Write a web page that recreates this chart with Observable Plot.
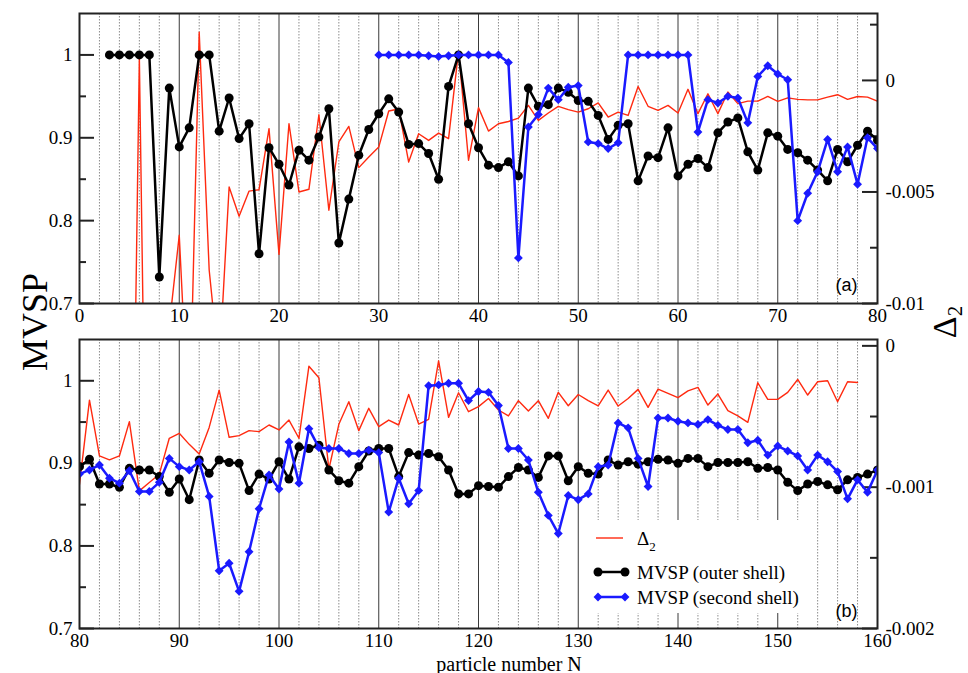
<!DOCTYPE html>
<html>
<head>
<meta charset="utf-8">
<script src="https://cdn.jsdelivr.net/npm/d3@7"></script>
<script src="https://cdn.jsdelivr.net/npm/@observablehq/plot@0.6"></script>
<style>
  body { margin: 0; background: #fff; }
  #wrap { position: relative; width: 968px; height: 673px; background: #fff; overflow: hidden;
          font-family: "Liberation Serif", serif; }
  #wrap .panel { position: absolute; left: 0; }
  #wrap svg text { font-family: "Liberation Serif", serif; }
  #wrap svg text.sans, #wrap svg .sans text { font-family: "Liberation Sans", sans-serif; }
  .lab { position: absolute; color: #000; white-space: nowrap; line-height: 1; }
  #legend { position: absolute; left: 585px; top: 520px; width: 232px; height: 93px; background: #fff; }
</style>
</head>
<body>
<div id="wrap">
  <div id="pa" class="panel" style="top:0px"></div>
  <div id="pb" class="panel" style="top:326px"></div>
  <div id="legend"></div>
  <div class="lab" style="left:35px; top:322px; font-size:36px; transform: translate(-50%,-50%) rotate(-90deg);">MVSP</div>
  <div class="lab" style="left:947px; top:322px; font-size:34px; transform: translate(-50%,-50%) rotate(-90deg);">&Delta;<sub style="font-size:21px; vertical-align:-6px;">2</sub></div>
  <div class="lab" style="left:509px; top:664px; font-size:20px; line-height:17px; transform: translate(-50%,-50%);">particle number N</div>
</div>
<script>
// ---------------- data ----------------
// Panel (a): N = 3..80 outer shell, N = 30..80 second shell, Delta_2 N = 3..80
const outerStartA = 3;
const outerA = [1, 1, 1, 1, 1, 0.732, 0.960, 0.889, 0.912, 1.0, 1.0, 0.908, 0.948, 0.899, 0.917, 0.760, 0.888, 0.868,
  0.843, 0.885, 0.873, 0.901, 0.935, 0.773, 0.826, 0.879, 0.910, 0.929, 0.947, 0.931, 0.892, 0.893, 0.881, 0.850, 0.962, 1.0, 0.917, 0.888,
  0.867, 0.864, 0.871, 0.854, 0.960, 0.938, 0.940, 0.960, 0.955, 0.945, 0.944, 0.927, 0.898, 0.915, 0.917, 0.848, 0.878, 0.876, 0.912, 0.854,
  0.868, 0.875, 0.864, 0.906, 0.919, 0.924, 0.883, 0.861, 0.906, 0.902, 0.886, 0.882, 0.873, 0.861, 0.848, 0.886, 0.871, 0.891, 0.908, 0.897];

const secondStartA = 30;
const secondA = [1, 1, 1, 1, 1, 0.999, 0.998, 0.999, 1, 1, 1, 1, 1,
  0.991, 0.755, 0.913, 0.928, 0.960, 0.946, 0.961, 0.963, 0.895, 0.893, 0.887, 0.894,
  1, 1, 1, 1, 1, 1, 1,
  0.907, 0.946, 0.942, 0.950, 0.948, 0.918, 0.974, 0.987, 0.977, 0.970, 0.800, 0.833, 0.859, 0.898, 0.859, 0.889, 0.844, 0.900, 0.887];

const deltaStartA = 3;
const deltaA = [-0.03, -0.03, -0.03, 0.0010, -0.03, -0.02, -0.011, -0.00694, -0.016, 0.00216, -0.0085, -0.0129, -0.00478, -0.00609, -0.00496, -0.0049, -0.00216, -0.0078,
  -0.00194, -0.0050, -0.00488, -0.00154, -0.00582, -0.00276, -0.00206, -0.00391, -0.00343, -0.00299, -0.00137, -0.00128, -0.00366, -0.00239, -0.00269, -0.00236, -0.00261, 0.00131, -0.00358, -0.00122,
  -0.00227, -0.00194, -0.00184, -0.00169, -0.00112, -0.00179, -0.00146, -0.00116, -0.00131, -0.00142, -0.00127, -0.00101, -0.00164, -0.00142, -0.00157, -0.00027, -0.00116, -0.00134, -0.00112, -0.00146,
  -0.00040, -0.00149, -0.00060, -0.00149, -0.00052, -0.00104, -0.00093, -0.00093, -0.00072, -0.00094, -0.00078, -0.00085, -0.00087, -0.00087, -0.00075, -0.00064, -0.00085, -0.00072, -0.00075, -0.00093];

// Panel (b): N = 80..160 (Delta_2 up to 158)
const outerStartB = 80;
const outerB = [0.896, 0.905, 0.875, 0.875, 0.871, 0.894, 0.892, 0.892, 0.884, 0.865, 0.881, 0.856, 0.904, 0.888, 0.904, 0.901, 0.900, 0.867, 0.887, 0.881, 0.902,
  0.881, 0.920, 0.918, 0.922, 0.892, 0.879, 0.876, 0.896, 0.915, 0.918, 0.918, 0.884, 0.913, 0.910, 0.912, 0.908, 0.892, 0.863, 0.863, 0.873,
  0.872, 0.871, 0.884, 0.895, 0.892, 0.883, 0.909, 0.909, 0.879, 0.896, 0.888, 0.887, 0.904, 0.898, 0.902, 0.899, 0.902, 0.905, 0.904, 0.900,
  0.906, 0.906, 0.896, 0.901, 0.901, 0.901, 0.902, 0.894, 0.895, 0.892, 0.877, 0.867, 0.875, 0.878, 0.874, 0.868, 0.880, 0.883, 0.887, 0.892];

const secondStartB = 80;
const secondB = [0.887, 0.892, 0.898, 0.882, 0.876, 0.891, 0.866, 0.866, 0.877, 0.906, 0.896, 0.892, 0.902, 0.860, 0.770, 0.779, 0.745, 0.793, 0.845, 0.886, 0.869,
  0.926, 0.876, 0.942, 0.919, 0.918, 0.918, 0.912, 0.912, 0.916, 0.913, 0.841, 0.882, 0.851, 0.867, 0.994, 0.995, 0.997, 0.997, 0.976, 0.987,
  0.986, 0.970, 0.918, 0.918, 0.904, 0.865, 0.837, 0.815, 0.861, 0.856, 0.863, 0.896, 0.898, 0.949, 0.943, 0.906, 0.872, 0.955, 0.955, 0.951,
  0.949, 0.947, 0.953, 0.946, 0.941, 0.941, 0.925, 0.928, 0.910, 0.921, 0.915, 0.909, 0.892, 0.910, 0.902, 0.890, 0.857, 0.880, 0.865, 0.892];

const deltaStartB = 80;
const deltaB = [-0.00098, -0.000384, -0.000779, -0.000807, -0.000779, -0.000536, -0.001026, -0.000967, -0.000908, -0.000654, -0.000619, -0.000697, -0.000765, -0.000577, -0.000313, -0.000647, -0.000635, -0.000600, -0.000607, -0.000560, -0.000595,
  -0.000525, -0.000654, -0.000144, -0.000226, -0.000873, -0.000555, -0.000395, -0.000600, -0.000442, -0.000572, -0.000525, -0.000560, -0.000344, -0.000553, -0.000520, -0.000106, -0.000506, -0.000332, -0.000466, -0.000430,
  -0.000372, -0.000454, -0.000496, -0.000388, -0.000461, -0.000388, -0.000513, -0.000329, -0.000424, -0.000344, -0.000388, -0.000424, -0.000313, -0.000426, -0.000372, -0.000308, -0.000435, -0.000306, -0.000336, -0.000366,
  -0.000318, -0.000294, -0.000419, -0.000341, -0.000459, -0.000496, -0.000541, -0.000261, -0.000379, -0.000379, -0.000329, -0.000238, -0.000348, -0.000254, -0.000247, -0.000395, -0.000254, -0.000259];

// axes / ticks
const yDomain = [0.7, 1.05];
const yMajor = [0.7, 0.8, 0.9, 1];
const yMinor = [0.75, 0.85, 0.95];
const xDomainA = [0, 80];
const xDomainB = [80, 160];
const deltaDomainA = [-0.01, 0.003];
const deltaMajorA = [0, -0.005, -0.01];
const deltaMinorA = [0.0025, -0.0025, -0.0075];
const deltaDomainB = [-0.002, 0.000045];
const deltaMajorB = [0, -0.001, -0.002];
const deltaMinorB = [-0.0005, -0.0015];

const seriesNames = ["\u0394", "MVSP (outer shell)", "MVSP (second shell)"];
const colors = {outer: "#000000", second: "#1a1aff", delta: "#ff2a10"};

// ---------------- layout ----------------
const W = 968, ML = 79, MR = 91;
const FW = W - ML - MR;
const SERIF = "Liberation Serif";
const SANS = "Liberation Sans";

function rows(vals, start) { return vals.map((v, i) => ({N: start + i, v})); }

function fmtDelta(v) {
  if (Math.abs(v) < 1e-12) return "0";
  return String(+v.toPrecision(6));
}

function makePanel(cfg) {
  const toY = d3.scaleLinear().domain(cfg.deltaDomain).range(yDomain);
  const outer = rows(cfg.outer, cfg.outerStart);
  const second = rows(cfg.second, cfg.secondStart);
  const delta = rows(cfg.delta, cfg.deltaStart);
  const [x0, x1] = cfg.xDomain;
  const xMajorGrid = d3.range(x0 + 10, x1, 10);
  const xMinorGrid = d3.range(x0 + 2, x1, 2).filter(d => d % 10 !== 0);
  const xLabels = d3.range(x0, x1 + 1, 10);
  return Plot.plot({
    width: W, height: cfg.height,
    marginLeft: ML, marginRight: MR, marginTop: cfg.mt, marginBottom: cfg.mb,
    x: {domain: cfg.xDomain},
    y: {domain: yDomain},
    style: {fontFamily: SERIF, fontSize: "19px", color: "#000", background: "transparent", overflow: "visible"},
    marks: [
      Plot.ruleX(xMinorGrid, {stroke: "#8c8c8c", strokeWidth: 1, strokeDasharray: "1.5,1.5"}),
      Plot.ruleX(xMajorGrid, {stroke: "#3a3a3a", strokeWidth: 1}),
      // left ticks (inward)
      Plot.tickY(yMajor, {y: d => d, insetRight: FW - 15, stroke: "#222", strokeWidth: 2}),
      Plot.tickY(yMinor, {y: d => d, insetRight: FW - 7, stroke: "#222", strokeWidth: 2}),
      // right ticks (inward)
      Plot.tickY(cfg.deltaMajor.map(toY), {y: d => d, insetLeft: FW - 15, stroke: "#222", strokeWidth: 2}),
      Plot.tickY(cfg.deltaMinor.map(toY), {y: d => d, insetLeft: FW - 7, stroke: "#222", strokeWidth: 2}),
      // data
      Plot.line(delta, {x: "N", y: d => toY(d.v), stroke: colors.delta, strokeWidth: 1.4, clip: true}),
      Plot.line(outer, {x: "N", y: "v", stroke: colors.outer, strokeWidth: 2.5, clip: true}),
      Plot.dot(outer, {x: "N", y: "v", r: 4.5, fill: colors.outer, stroke: null, clip: true}),
      Plot.line(second, {x: "N", y: "v", stroke: colors.second, strokeWidth: 2.5, clip: true}),
      Plot.dot(second, {x: "N", y: "v", symbol: "diamond2", r: 4, fill: colors.second, stroke: null, clip: true}),
      Plot.frame({stroke: "#222", strokeWidth: 2}),
      // axes text
      Plot.axisY(yMajor, {anchor: "left", tickSize: 0, tickPadding: 7, tickFormat: d => String(d), label: null, fontSize: 19, fontFamily: SERIF}),
      Plot.axisY(cfg.deltaMajor.map(toY), {anchor: "right", tickSize: 0, tickPadding: 8, tickFormat: v => fmtDelta(toY.invert(v)), label: null, fontSize: 19, fontFamily: SERIF}),
      Plot.axisX(xLabels, {anchor: "bottom", tickSize: 0, tickPadding: 5, tickFormat: d => String(d), label: null, fontSize: 19, fontFamily: SERIF}),
      Plot.text([cfg.tag], {frameAnchor: "bottom-right", dx: -20, dy: cfg.tagDy, fontFamily: SANS, fontSize: 18, className: "sans"})
    ]
  });
}

document.getElementById("pa").appendChild(makePanel({
  height: 326, mt: 13, mb: 23, xDomain: xDomainA,
  deltaDomain: deltaDomainA, deltaMajor: deltaMajorA, deltaMinor: deltaMinorA,
  outer: outerA, outerStart: outerStartA, second: secondA, secondStart: secondStartA,
  delta: deltaA, deltaStart: deltaStartA, tag: "(a)", tagDy: -13
}));
document.getElementById("pb").appendChild(makePanel({
  height: 347, mt: 13, mb: 45, xDomain: xDomainB,
  deltaDomain: deltaDomainB, deltaMajor: deltaMajorB, deltaMinor: deltaMinorB,
  outer: outerB, outerStart: outerStartB, second: secondB, secondStart: secondStartB,
  delta: deltaB, deltaStart: deltaStartB, tag: "(b)", tagDy: -12
}));

// ---------------- legend ----------------
const lg = d3.select("#legend").append("svg").attr("width", 232).attr("height", 93);
const entries = [
  {name: seriesNames[0], color: colors.delta, w: 1.4, sym: null, y: 18},
  {name: seriesNames[1], color: colors.outer, w: 2.5, sym: "circle", y: 52},
  {name: seriesNames[2], color: colors.second, w: 2.5, sym: "diamond", y: 77}
];
entries.forEach((e, i) => {
  const g = lg.append("g");
  const xa = i === 0 ? 11 : 13, xb = i === 0 ? 38 : 40;
  g.append("line").attr("x1", xa).attr("x2", xb).attr("y1", e.y).attr("y2", e.y)
    .attr("stroke", e.color).attr("stroke-width", e.w);
  if (e.sym) {
    const s = d3.symbol(e.sym === "circle" ? d3.symbolCircle : d3.symbolDiamond2, e.sym === "circle" ? 64 : 50)();
    [xa, xb].forEach(x => g.append("path").attr("d", s).attr("transform", `translate(${x},${e.y})`).attr("fill", e.color));
  }
  const t = g.append("text").attr("x", 52).attr("y", e.y).attr("dy", "0.35em").attr("fill", "#000")
    .attr("font-family", SERIF).attr("font-size", 19);
  if (i === 0) {
    t.append("tspan").text(e.name);
    t.append("tspan").attr("font-size", "13px").attr("dy", "6").text("2");
  } else {
    t.text(e.name);
  }
});
</script>
</body>
</html>
